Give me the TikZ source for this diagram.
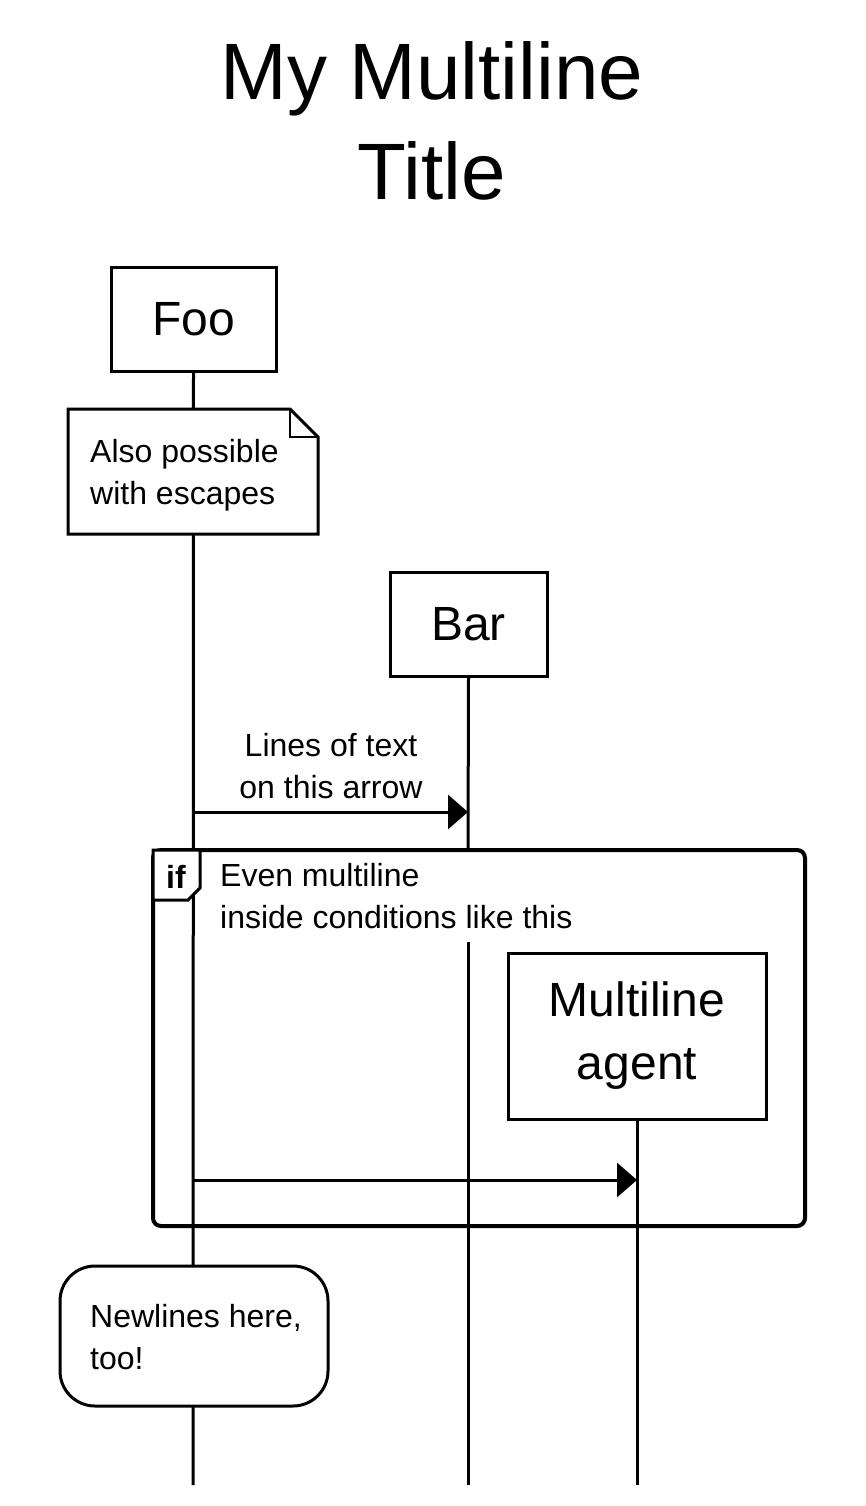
\documentclass[tikz,border=0pt]{standalone}
\usepackage{fontspec}
\setmainfont{Liberation Sans}
\usetikzlibrary{arrows.meta}
\tikzset{
	agent/.style={draw=black,line width=3pt,inner sep=0pt,align=center},
	life/.style={line width=3pt},
	msg/.style={line width=3pt,-{Triangle[length=20pt,width=34pt]}},
	txt/.style={inner sep=0pt,align=left,font=\fontsize{32}{42}\selectfont}
}
\begin{document}
\begin{tikzpicture}[x=1pt,y=-1pt]
	\useasboundingbox (0,0) rectangle (865,1506);
	% title
	\node[inner sep=0pt,align=center,anchor=north,font=\fontsize{80}{100}\selectfont] (title) at (432,41) {My Multiline\\Title};
	% agents
	\node[agent,minimum width=165pt,minimum height=104pt,font=\fontsize{48}{60}\selectfont] (foo) at (193.5,319) {Foo};
	\node[agent,minimum width=157pt,minimum height=104pt,font=\fontsize{48}{60}\selectfont] (bar) at (468.5,624) {Bar};
	\node[agent,minimum width=258pt,minimum height=166pt,font=\fontsize{48}{63}\selectfont] (multi) at (637,1036) {Multiline\\agent};
	\coordinate (fooend) at (193,1485);
	\coordinate (barend) at (468,1485);
	\coordinate (multiend) at (637,1485);
	\coordinate (bargap) at (468,850);
	\coordinate (barresume) at (468,942);
	% lifelines
	\draw[life] (foo.south) -- (fooend);
	\draw[life] (bar.south) -- (bargap);
	\draw[life] (barresume) -- (barend);
	\draw[life] (multi.south) -- (multiend);
	% note with folded corner
	\draw[line width=3pt,fill=white] (68,409) -- (290,409) -- (318,437) -- (318,534) -- (68,534) -- cycle;
	\draw[line width=2pt] (290,409) -- (290,437) -- (318,437);
	\node[txt,anchor=north west] (note) at (90,439) {Also possible\\with escapes};
	% first message
	\node[txt,align=center,anchor=north] (msglabel) at (331,733) {Lines of text\\on this arrow};
	\draw[msg] (193,812) -- (468,812);
	% condition block
	\draw[line width=4pt,rounded corners=8pt] (153,850) rectangle (805,1226);
	\draw[line width=3pt,fill=white] (153,850) -- (200,850) -- (200,888) -- (188,900) -- (153,900) -- cycle;
	\node[inner sep=0pt,font=\bfseries\fontsize{32}{40}\selectfont] (iftag) at (176,877) {if};
	\node[txt,anchor=north west] (cond) at (220,863) {Even multiline\\inside conditions like this};
	\draw[msg] (193,1180) -- (637,1180);
	% rounded note
	\draw[line width=3pt,fill=white,rounded corners=35pt] (60,1266) rectangle (328,1406);
	\node[txt,anchor=north west] (note2) at (90,1304) {Newlines here,\\too!};
\end{tikzpicture}
\end{document}
